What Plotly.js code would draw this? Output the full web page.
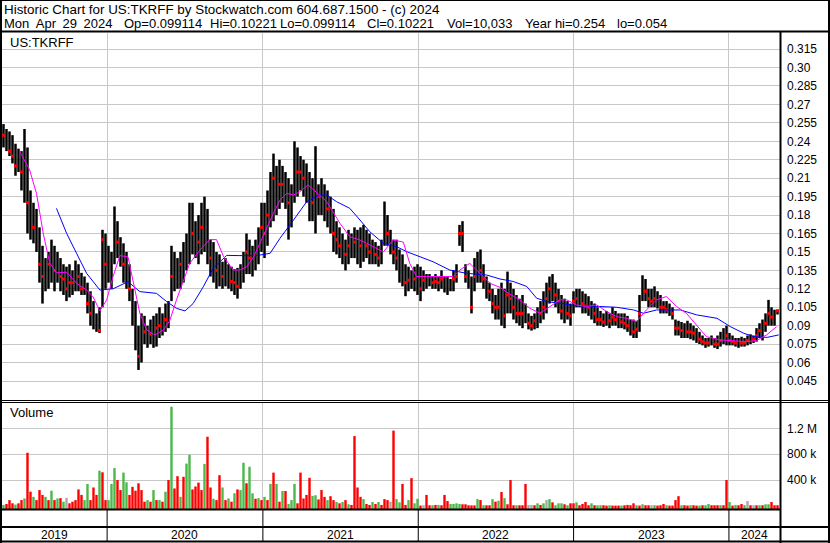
<!DOCTYPE html>
<html><head><meta charset="utf-8">
<script src="https://cdn.plot.ly/plotly-3.0.1.min.js"></script>
<style>html,body{margin:0;padding:0;background:#fff}#chart{width:830px;height:543px}</style>
</head><body><div id="chart"></div>
<script>
// ---------- DATA (weekly bars) ----------
const firstWeek = '2019-05-02T12:00:00Z';
const weekStepDays = 7.049;
const highs = [
.254,.25,.248,.245,.238,.234,.232,.25,.235,.2,
.19,.185,.17,.155,.145,.15,.16,.155,.15,.145,
.14,.138,.14,.135,.143,.14,.133,.13,.125,.118,
.11,.1,.105,.168,.165,.155,.15,.187,.175,.162,
.157,.15,.14,.12,.11,.09,.1,.098,.09,.095,
.098,.1,.105,.1,.108,.11,.155,.15,.145,.15,
.158,.165,.19,.19,.175,.18,.19,.195,.185,.16,
.158,.15,.148,.142,.145,.14,.138,.136,.137,.14,
.15,.165,.16,.155,.16,.17,.19,.19,.2,.215,
.23,.22,.225,.22,.215,.21,.205,.24,.235,.228,
.225,.222,.215,.21,.236,.205,.21,.205,.2,.195,
.185,.175,.17,.165,.16,.168,.165,.17,.168,.17,
.172,.168,.165,.16,.158,.155,.16,.191,.18,.168,
.16,.16,.152,.148,.14,.138,.135,.138,.14,.138,
.135,.132,.132,.13,.132,.13,.135,.13,.13,.128,
.135,.14,.172,.175,.14,.135,.13,.145,.15,.152,
.14,.13,.125,.12,.115,.12,.125,.12,.134,.125,
.12,.115,.112,.115,.108,.1,.098,.1,.105,.11,
.118,.125,.13,.132,.125,.12,.115,.112,.11,.108,
.118,.12,.12,.118,.116,.114,.11,.108,.105,.102,
.1,.102,.1,.105,.102,.1,.1,.1,.098,.095,
.095,.094,.115,.131,.128,.12,.12,.122,.118,.115,
.11,.11,.108,.105,.095,.094,.093,.092,.094,.092,
.09,.088,.085,.082,.08,.08,.082,.08,.082,.085,
.088,.09,.084,.082,.08,.08,.081,.08,.082,.083,
.082,.088,.092,.095,.1,.111,.105,.103,.10221];
const lows = [
.235,.232,.228,.222,.212,.215,.2,.19,.165,.16,
.157,.15,.125,.108,.118,.12,.125,.118,.125,.118,
.115,.11,.113,.115,.118,.118,.115,.115,.1,.09,
.087,.085,.084,.105,.12,.125,.12,.14,.145,.138,
.125,.12,.11,.09,.07,.054,.06,.075,.072,.075,
.072,.073,.08,.082,.085,.088,.11,.118,.12,.12,
.125,.135,.14,.148,.145,.14,.148,.15,.14,.13,
.125,.12,.122,.12,.122,.12,.118,.115,.112,.12,
.125,.132,.132,.13,.135,.14,.15,.145,.155,.17,
.175,.18,.185,.19,.185,.16,.17,.19,.195,.2,
.195,.19,.175,.175,.165,.18,.18,.175,.17,.165,
.15,.148,.145,.14,.135,.14,.145,.145,.14,.137,
.142,.145,.14,.14,.14,.138,.14,.155,.155,.148,
.14,.135,.125,.122,.114,.118,.12,.118,.115,.11,
.118,.12,.122,.12,.12,.118,.12,.117,.115,.118,
.118,.125,.155,.15,.125,.12,.1,.118,.125,.125,
.12,.112,.11,.1,.095,.095,.09,.088,.1,.1,
.095,.092,.09,.088,.092,.087,.086,.087,.088,.092,
.095,.1,.108,.11,.105,.1,.095,.092,.095,.09,
.1,.105,.105,.1,.1,.098,.095,.092,.09,.09,
.089,.09,.088,.09,.09,.088,.088,.087,.085,.082,
.08,.08,.085,.11,.11,.105,.105,.105,.104,.1,
.1,.1,.098,.095,.082,.082,.08,.08,.08,.079,
.078,.076,.075,.074,.072,.073,.074,.072,.071,.073,
.075,.074,.074,.074,.073,.072,.073,.073,.074,.075,
.076,.077,.08,.078,.085,.09,.09,.09,.099114];
const closes = [
.245,.24,.232,.228,.22,.225,.215,.2,.19,.18,
.17,.165,.14,.13,.13,.14,.145,.135,.14,.13,
.128,.12,.125,.125,.128,.13,.12,.12,.108,.1,
.095,.09,.086,.16,.14,.135,.13,.17,.158,.148,
.14,.13,.12,.1,.085,.065,.08,.085,.08,.083,
.082,.088,.09,.092,.095,.1,.13,.13,.135,.14,
.145,.15,.16,.165,.16,.158,.17,.168,.155,.145,
.14,.135,.13,.13,.135,.128,.126,.125,.122,.13,
.14,.15,.145,.14,.15,.16,.17,.165,.18,.2,
.21,.2,.205,.205,.2,.19,.19,.22,.215,.215,
.21,.205,.2,.19,.2,.195,.19,.19,.185,.175,
.165,.16,.155,.152,.148,.155,.155,.158,.15,.155,
.16,.155,.15,.15,.148,.145,.15,.17,.165,.155,
.15,.145,.135,.13,.125,.127,.128,.128,.125,.12,
.127,.127,.127,.125,.126,.125,.128,.122,.12,.122,
.128,.13,.165,.165,.13,.128,.105,.13,.14,.135,
.128,.12,.118,.108,.105,.105,.1,.098,.115,.112,
.105,.1,.1,.1,.1,.092,.09,.094,.095,.1,
.105,.112,.12,.12,.115,.11,.102,.1,.1,.098,
.11,.112,.11,.108,.106,.105,.102,.1,.095,.095,
.093,.095,.094,.097,.095,.094,.093,.092,.09,.088,
.085,.087,.1,.12,.118,.112,.11,.112,.11,.105,
.105,.103,.102,.1,.088,.088,.086,.085,.085,.085,
.084,.082,.079,.077,.076,.076,.078,.075,.075,.078,
.08,.082,.078,.077,.076,.075,.076,.076,.078,.078,
.079,.082,.086,.088,.092,.1,.097,.095,.10221];
// weeks whose close shows as a red mark in the picture
const redMarkWeeks = [0,2,3,4,6,8,10,12,13,15,17,19,20,21,22,23,25,26,28,29,32,33,34,38,40,42,45,47,49,51,52,54,56,59,63,65,66,69,71,73,76,77,78,81,82,
86,87,88,90,92,93,95,98,99,100,103,105,108,110,111,112,114,115,117,119,121,122,124,125,128,130,131,134,135,137,139,140,143,144,145,146,150,151,152,153,154,156,157,159,160,162,163,164,165,167,168,169,170,171,
172,173,175,176,177,179,180,181,182,184,185,186,188,189,190,191,193,194,195,197,198,199,200,202,203,204,206,207,208,210,211,212,214,215,216,217,219,220,221,223,224,225,226,228,229,230,232,233,234,235,237,238,239,241,242,243,244,246,247,248,250,251,252,254,255,256,258];
// volume in thousands of shares
const volumeK = [
15,30,90,40,20,40,90,115,822,220,
140,90,245,170,140,90,235,90,115,120,
65,125,40,65,90,255,170,90,340,90,
285,170,545,520,90,90,340,585,400,245,
515,365,170,295,235,350,245,65,90,65,
245,90,90,65,220,400,1535,270,460,140,
450,655,790,255,300,360,245,650,1070,285,
110,90,475,285,90,115,65,195,255,245,
668,350,605,195,110,120,90,140,90,340,
515,340,65,230,230,30,90,340,40,515,
115,170,435,155,165,100,245,140,90,150,
90,60,40,60,90,25,15,1080,285,140,
105,30,15,60,30,60,15,105,90,65,
1165,105,55,340,15,90,430,40,110,5,
10,170,10,10,15,15,10,170,75,30,
30,40,30,25,25,10,8,8,105,90,
10,10,10,105,65,80,215,120,25,400,
10,10,10,10,340,15,15,10,40,15,
40,90,105,55,10,40,40,25,10,40,
40,55,10,30,60,10,40,10,10,10,
10,5,10,5,5,5,5,10,15,10,
40,10,5,25,10,10,10,10,5,10,
30,10,5,5,90,150,10,10,5,10,
10,5,5,10,10,30,10,10,10,10,
10,400,60,5,15,10,30,10,75,10,
10,10,10,10,25,25,60,10,10];
// r = down day, g = up day, n = unchanged
const volumeDir = ("grrrgrrgrr"+"grrrgrgrgr"+"gnrrrrrggr"+"rrgrrgggrr"+"ggrrrrrrgr"+
  "grgrgrgrrg"+"rggrrrrgrr"+"grrgrgrgrg"+"grggrgrgrg"+"rgrgrgggrr"+
  "rrrggrrrgr"+"rgrgrgrrrr"+"grrgrgrrrn"+"rggrrgrggr"+"nrrgrgrrrg"+
  "gggrrrrrgr"+"grrgrgrgrr"+"rgrrrnnrgr"+"gngrgggrgr"+"rgrrrrgrgg"+
  "rrgrrrgrrr"+"rgrgrrngrr"+"rgrrrrgrrg"+"rrgrggrrrg"+"rrgrgrrgnr"+"nrgrggrrr").split('');

const maShortDates = ['2019-06-10','2019-07-03','2019-07-19','2019-08-04','2019-08-19','2019-09-04','2019-09-28','2019-10-21','2019-11-14','2019-11-29','2019-12-15','2019-12-31',
'2020-01-15','2020-01-31','2020-02-19','2020-03-02','2020-03-18','2020-04-03','2020-04-22','2020-05-12','2020-05-27','2020-06-12','2020-06-28','2020-07-13','2020-08-06','2020-08-29','2020-09-14','2020-09-30','2020-10-23','2020-11-08','2020-11-24','2020-12-10','2020-12-25',
'2021-01-10','2021-01-25','2021-02-10','2021-02-26','2021-03-14','2021-03-29','2021-04-17','2021-04-29','2021-05-15','2021-05-31','2021-06-15','2021-07-01','2021-07-24','2021-08-17','2021-09-02','2021-09-25','2021-10-11','2021-11-03','2021-11-27','2021-12-12','2021-12-28',
'2022-01-21','2022-03-01','2022-03-24','2022-04-09','2022-05-02','2022-05-26','2022-06-19','2022-07-12','2022-08-04','2022-08-28','2022-09-20','2022-10-14','2022-11-06','2022-11-30','2022-12-16',
'2023-01-08','2023-01-31','2023-02-24','2023-03-20','2023-04-12','2023-05-05','2023-05-29','2023-06-21','2023-07-15','2023-08-07','2023-08-31','2023-09-23','2023-10-17','2023-11-09','2023-12-11',
'2024-01-11','2024-02-11','2024-03-06','2024-03-29','2024-04-22'];
const maShortValues = [0.2315,0.2166,0.1977,0.165,0.141,0.133,0.1335,0.1245,0.119,0.1134,0.102,0.111,
0.13,0.147,0.146,0.127,0.10,0.0865,0.0824,0.0865,0.094,0.111,0.127,0.1407,0.1515,0.16,0.16,0.1467,0.1353,0.1353,0.138,0.146,0.157,
0.17,0.181,0.192,0.1977,0.1963,0.199,0.2045,0.2005,0.196,0.1909,0.1827,0.1733,0.1624,0.1597,0.157,0.153,0.150,0.1597,0.158,0.1407,0.13,
0.13,0.13,0.13,0.1353,0.1407,0.1326,0.1244,0.1212,0.1157,0.111,0.1042,0.1001,0.1056,0.111,0.111,
0.1069,0.1056,0.1069,0.1015,0.0974,0.096,0.0933,0.1028,0.111,0.1137,0.1056,0.1001,0.0906,0.0811,0.0784,
0.078,0.077,0.078,0.0824,0.0892];
const maLongDates = ['2019-09-04','2019-09-28','2019-10-21','2019-11-14','2019-12-15',
'2020-01-15','2020-02-19','2020-03-18','2020-04-26','2020-05-20','2020-06-12','2020-07-02','2020-07-21','2020-08-14','2020-09-06','2020-10-08','2020-11-08','2020-12-17',
'2021-01-18','2021-02-10','2021-03-14','2021-04-14','2021-05-15','2021-05-31','2021-06-23','2021-07-24','2021-08-17','2021-09-09','2021-10-11','2021-11-11','2021-12-05',
'2022-01-05','2022-02-05','2022-03-16','2022-04-25','2022-06-11','2022-07-12','2022-08-12','2022-09-13','2022-10-06','2022-10-30','2022-11-30',
'2023-01-08','2023-03-04','2023-04-12','2023-05-22','2023-06-14','2023-07-15','2023-09-09','2023-10-17','2023-12-04',
'2024-01-04','2024-02-05','2024-02-29','2024-03-31','2024-04-27'];
const maLongValues = [0.1854,0.165,0.149,0.1325,0.119,
0.120,0.1258,0.1177,0.1163,0.1096,0.1041,0.102,0.108,0.1217,0.1366,0.1472,0.147,0.147,
0.1489,0.161,0.176,0.1909,0.1963,0.1963,0.1909,0.1855,0.176,0.1665,0.157,0.1543,0.1502,
0.1461,0.142,0.1353,0.1326,0.1312,0.128,0.126,0.1219,0.1124,0.1096,0.1083,
0.1061,0.1056,0.105,0.1028,0.1001,0.1028,0.1028,0.0988,0.096,
0.0893,0.0838,0.0811,0.0805,0.0825];

const priceTicks = [0.045,0.06,0.075,0.09,0.105,0.12,0.135,0.15,0.165,0.18,0.195,0.21,0.225,0.24,0.255,0.27,0.285,0.30,0.315];
const priceTickText = ['0.045','0.06','0.075','0.09','0.105','0.12','0.135','0.15','0.165','0.18','0.195','0.21','0.225','0.24','0.255','0.27','0.285','0.30','0.315'];
const volumeTicks = [400000, 800000, 1200000];
const volumeTickText = ['400 k','800 k','1.2 M'];
const years = ['2019','2020','2021','2022','2023','2024'];
const yearLabelDates = ['2019-08-31','2020-07-01','2021-07-02','2022-07-02','2023-07-02','2024-03-01'];
const headerLine1 = 'Historic Chart for US:TKRFF by Stockwatch.com 604.687.1500 - (c) 2024';
const headerLine2Parts = ['Mon\u2002Apr\u200229\u20022024', 'Op=0.099114', 'Hi=0.10221', 'Lo=0.099114', 'Cl=0.10221', 'Vol=10,033', 'Year hi=0.254', 'lo=0.054'];
const headerLine2X = [2, 121.5, 208, 278, 365, 445, 523, 615];

// ---------- BUILD ----------
const W = 830, H = 543;
const px = x => x / W, py = y => 1 - y / H;
const DAY = 86400000;
const t0 = Date.parse(firstWeek);
const dates = highs.map((_, i) => new Date(t0 + i * weekStepDays * DAY).toISOString());
const pxPerDay = 778 / 1828;
const FONT = 'Arial, "Liberation Sans", sans-serif';
const colorMap = {r: '#FF0000', g: '#4CB84A', n: '#A8A8A8'};
const volBottomPad = 48000;

const traces = [
  { type: 'bar', x: dates, base: lows, y: highs.map((h, i) => h - lows[i]),
    width: 2.5 / pxPerDay * DAY, marker: {color: '#000000', line: {width: 0}},
    xaxis: 'x', yaxis: 'y', hoverinfo: 'skip' },
  { type: 'scatter', mode: 'markers', x: redMarkWeeks.map(i => dates[i]), y: redMarkWeeks.map(i => closes[i]),
    marker: {symbol: 'square', size: 3, color: '#FF0000', line: {width: 0}},
    xaxis: 'x', yaxis: 'y', hoverinfo: 'skip' },
  { type: 'scatter', mode: 'lines', x: maLongDates, y: maLongValues,
    line: {color: '#0000FF', width: 1}, xaxis: 'x', yaxis: 'y', hoverinfo: 'skip' },
  { type: 'scatter', mode: 'lines', x: maShortDates, y: maShortValues,
    line: {color: '#FF00FF', width: 1}, xaxis: 'x', yaxis: 'y', hoverinfo: 'skip' },
  { type: 'bar', x: dates, base: -volBottomPad, y: volumeK.map(v => v * 1000 + volBottomPad),
    width: 2.4 / pxPerDay * DAY, marker: {color: volumeDir.map(d => colorMap[d]), line: {width: 0}},
    xaxis: 'x', yaxis: 'y2', hoverinfo: 'skip' }
];

const lines = [
  [0, 0.5, 830, 0.5, 1],
  [1, 0, 1, 543, 2],
  [829, 0, 829, 543, 2],
  [0, 541.5, 830, 541.5, 2],
  [0, 31.5, 830, 31.5, 2],
  [780.5, 31, 780.5, 543, 2],
  [0, 400.5, 830, 400.5, 1],
  [0, 402.5, 830, 402.5, 1],
  [0, 509.5, 781, 509.5, 2],
  [0, 527, 830, 527, 2]
];
const shapes = lines.map(l => ({type: 'line', xref: 'paper', yref: 'paper',
  x0: px(l[0]), y0: py(l[1]), x1: px(l[2]), y1: py(l[3]),
  line: {color: '#000', width: l[4]}, layer: 'above'}));
years.slice(1).forEach(y => shapes.push({type: 'line', xref: 'x', yref: 'paper',
  x0: y + '-01-01', x1: y + '-01-01', y0: py(510), y1: py(542),
  line: {color: '#000', width: 1}, layer: 'above'}));

const baseText = {xref: 'paper', yref: 'paper', xanchor: 'left', yanchor: 'middle', showarrow: false};
const annotations = [
  Object.assign({text: headerLine1, x: px(2), y: py(9.5), font: {family: FONT, size: 13.4, color: '#000'}}, baseText),
  Object.assign({text: 'US:TKRFF', x: px(8), y: py(42), font: {family: FONT, size: 13, color: '#000'}}, baseText),
  Object.assign({text: 'Volume', x: px(8), y: py(412.5), font: {family: FONT, size: 13, color: '#000'}}, baseText)
];
headerLine2Parts.forEach((t, i) => annotations.push(Object.assign({text: t, x: px(headerLine2X[i]), y: py(23.5),
  font: {family: FONT, size: 13, color: '#000'}}, baseText)));
years.forEach((y, i) => annotations.push({text: y, x: yearLabelDates[i], xref: 'x', y: py(535), yref: 'paper',
  xanchor: 'center', yanchor: 'middle', showarrow: false, font: {family: FONT, size: 12, color: '#000'}}));

const layout = {
  width: W, height: H, margin: {l: 0, r: 0, t: 0, b: 0},
  paper_bgcolor: '#fff', plot_bgcolor: '#fff', showlegend: false, barmode: 'overlay',
  font: {family: FONT, size: 12, color: '#000'},
  xaxis: { domain: [px(2), px(780)], type: 'date', range: ['2019-04-29', '2024-04-30'],
    anchor: 'y2', showticklabels: false, ticks: '', showgrid: true, gridcolor: '#C8C8C8', gridwidth: 1,
    tick0: '2019-01-01', dtick: 'M12', zeroline: false, showline: false, fixedrange: true },
  yaxis: { domain: [py(400), py(33)], range: [0.02955, 0.3281], side: 'right', anchor: 'x',
    tickmode: 'array', tickvals: priceTicks, ticktext: priceTickText, ticks: '',
    ticklabelstandoff: 6, showgrid: true, gridcolor: '#C8C8C8', gridwidth: 1,
    zeroline: false, showline: false, tickfont: {family: FONT, size: 12, color: '#000'}, fixedrange: true },
  yaxis2: { domain: [py(509), py(403)], range: [-volBottomPad, 1592000], side: 'right', anchor: 'x',
    tickmode: 'array', tickvals: volumeTicks, ticktext: volumeTickText, ticks: '',
    ticklabelstandoff: 6, showgrid: true, gridcolor: '#C8C8C8', gridwidth: 1,
    zeroline: false, showline: false, tickfont: {family: FONT, size: 12, color: '#000'}, fixedrange: true },
  shapes: shapes,
  annotations: annotations
};

Plotly.newPlot('chart', traces, layout, {displayModeBar: false, staticPlot: true});
</script>
</body></html>
